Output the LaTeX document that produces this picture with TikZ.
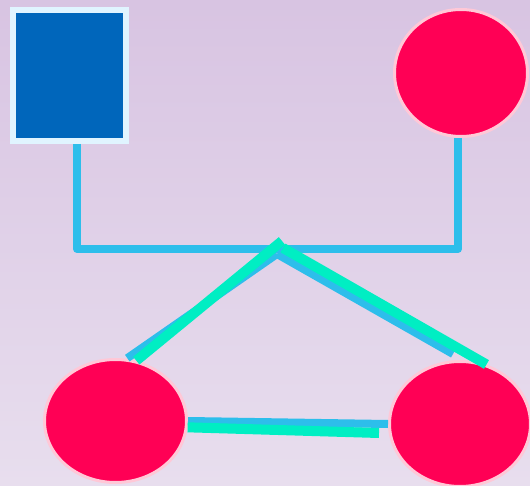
\documentclass[tikz,border=0pt]{standalone}
\usetikzlibrary{shapes.geometric}
\definecolor{bgtop}{RGB}{216,196,226}
\definecolor{bgbot}{RGB}{232,222,238}
\definecolor{sqfill}{RGB}{0,102,187}
\definecolor{sqedge}{RGB}{224,244,255}
\definecolor{redfill}{RGB}{255,0,85}
\definecolor{rededge}{RGB}{255,200,215}
\definecolor{bline}{RGB}{45,190,235}
\definecolor{gline}{RGB}{0,238,195}
\tikzset{
  sqbox/.style={rectangle, fill=sqfill, draw=sqedge, line width=6pt, inner sep=0pt},
  redell/.style={ellipse, fill=redfill, draw=rededge, line width=3pt, inner sep=0pt},
  blueline/.style={draw=bline, line width=8pt, line join=round},
  greenline/.style={draw=gline, line width=10pt}
}
\begin{document}
\begin{tikzpicture}[x=1pt,y=-1pt]
\useasboundingbox (0,0) rectangle (530,486);
\shade[top color=bgtop, bottom color=bgbot] (0,0) rectangle (530,486);
\node[sqbox, minimum width=113pt, minimum height=131pt] (sq) at (69.5,75.5) {};
\node[redell, minimum width=133pt, minimum height=127pt] (e1) at (461,73) {};
\node[redell, minimum width=142pt, minimum height=123pt] (e2) at (115.5,421) {};
\node[redell, minimum width=141pt, minimum height=125pt] (e3) at (460,424) {};
\coordinate (cl) at (77,249);
\coordinate (cr) at (458,249);
\coordinate (j) at (277,254);
\coordinate (bj) at (453,354);
\coordinate (ga) at (282,241);
\coordinate (gc) at (283,248);
\coordinate (gb) at (379,433);
% blue connectors
\draw[blueline] (sq.south -| cl) -- (cl) -- (cr) -- (e1.south -| cr);
\draw[blueline, shorten >=1pt] (j) -- (e2.80);
\draw[blueline] (j) -- (bj);
\draw[blueline] (e2.east) -- (e3.west);
% green connectors
\draw[greenline] (ga) -- (e2.71);
\draw[greenline] (gc) -- (e3.66);
\draw[greenline] (e2.-5) -- (gb);
\end{tikzpicture}
\end{document}
